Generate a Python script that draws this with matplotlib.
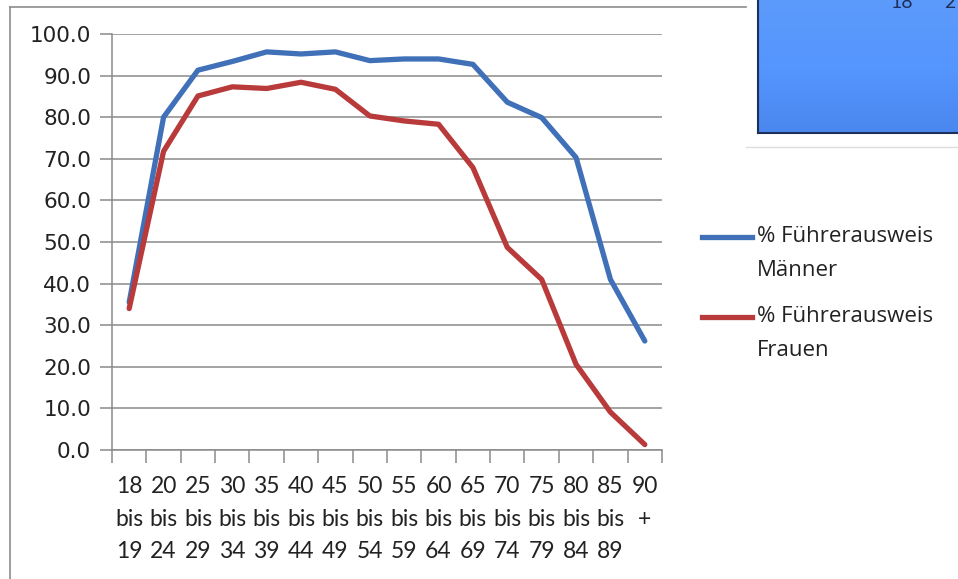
import matplotlib
matplotlib.use("Agg")
import matplotlib.pyplot as plt
import numpy as np
from matplotlib.lines import Line2D

categories = ["18\nbis\n19", "20\nbis\n24", "25\nbis\n29", "30\nbis\n34", "35\nbis\n39",
              "40\nbis\n44", "45\nbis\n49", "50\nbis\n54", "55\nbis\n59", "60\nbis\n64",
              "65\nbis\n69", "70\nbis\n74", "75\nbis\n79", "80\nbis\n84", "85\nbis\n89", "90\n+\n"]
maenner = [35.5, 80.0, 91.3, 93.4, 95.7, 95.2, 95.7, 93.6, 94.0, 94.0, 92.7, 83.6, 79.9, 70.3, 41.0, 26.2]
frauen = [34.0, 71.8, 85.1, 87.3, 86.9, 88.4, 86.7, 80.3, 79.1, 78.3, 67.9, 48.7, 41.0, 20.6, 9.1, 1.3]
yticks = [0, 10, 20, 30, 40, 50, 60, 70, 80, 90, 100]
series_names = [("% Führerausweis", "Männer"), ("% Führerausweis", "Frauen")]

W, H = 958, 579
fig = plt.figure(figsize=(W / 100, H / 100), dpi=100)
fig.patch.set_facecolor("white")

def fx(px):
    return px / W

def fy(py):
    return 1 - py / H

# outer chart frame (partially visible)
fig.add_artist(Line2D([fx(10), fx(10)], [fy(7), 0], transform=fig.transFigure, color="#8c8c8c", lw=1.2))
fig.add_artist(Line2D([fx(10), fx(746)], [fy(7), fy(7)], transform=fig.transFigure, color="#8c8c8c", lw=1.2))

# overlapping blue box of another chart in the top right
grad = np.linspace(0, 1, 100).reshape(-1, 1)
box_ax = fig.add_axes([fx(758), fy(133), fx(W - 758), (133) / H])
box_ax.imshow(grad, aspect="auto", cmap=matplotlib.colors.LinearSegmentedColormap.from_list(
    "b", ["#5c9bfb", "#5596ff", "#4a87ee"]), extent=[0, 1, 0, 1], origin="upper")
box_ax.set_xticks([])
box_ax.set_yticks([])
for s in ["top", "right"]:
    box_ax.spines[s].set_visible(False)
for s in ["left", "bottom"]:
    box_ax.spines[s].set_color("#1e2f5a")
    box_ax.spines[s].set_linewidth(1.5)
fig.text(fx(890), fy(8), "18", fontsize=14, color="#1e2f5a", va="baseline", family="Lato")
fig.text(fx(944), fy(8), "2", fontsize=14, color="#1e2f5a", va="baseline", family="Lato")
fig.add_artist(Line2D([fx(746), 1], [fy(147), fy(147)], transform=fig.transFigure, color="#dddddd", lw=1))

ax = fig.add_axes([fx(112), fy(450), fx(662 - 112), (450 - 34) / H])
x = np.arange(len(categories)) + 0.5
l1, = ax.plot(x, maenner, color="#3f70b8", lw=3.8, solid_capstyle="round", solid_joinstyle="round")
l2, = ax.plot(x, frauen, color="#b83a3a", lw=3.8, solid_capstyle="round", solid_joinstyle="round")

ax.set_xlim(0, len(categories))
ax.set_ylim(0, 100)
ax.set_yticks(yticks)
ax.set_yticklabels([f"{v:.1f}" for v in yticks], fontsize=15.5, family="DejaVu Sans", color="#222222")
ax.yaxis.grid(True, color="#8a8a8a", lw=1.1)
ax.set_axisbelow(True)

ax.set_xticks(np.arange(len(categories) + 1))
ax.set_xticklabels([])
ax.set_xticks(x, minor=True)
ax.set_xticklabels(categories, minor=True, fontsize=16.5, family="Lato", color="#222222", linespacing=1.66, va="top")
ax.tick_params(axis="x", which="minor", length=0, pad=19)
ax.tick_params(axis="x", which="major", length=9, color="#8a8a8a", width=1.1, direction="out")
ax.tick_params(axis="y", length=9, color="#8a8a8a", width=1.1, pad=6)
for s in ["top", "right"]:
    ax.spines[s].set_visible(False)
for s in ["left", "bottom"]:
    ax.spines[s].set_color("#8a8a8a")
    ax.spines[s].set_linewidth(1.1)

# legend
for i, (ln, (n1, n2)) in enumerate(zip([l1, l2], series_names)):
    yy = 237 + i * 80
    fig.add_artist(Line2D([fx(702), fx(752)], [fy(yy), fy(yy)], transform=fig.transFigure,
                          color=ln.get_color(), lw=3.8))
    fig.text(fx(757), fy(yy), n1, fontsize=16, family="Open Sans", color="#222222",
             va="center", ha="left")
    fig.text(fx(757), fy(yy + 34), n2, fontsize=16, family="Open Sans", color="#222222",
             va="center", ha="left")

fig.savefig("out.png", dpi=100)
